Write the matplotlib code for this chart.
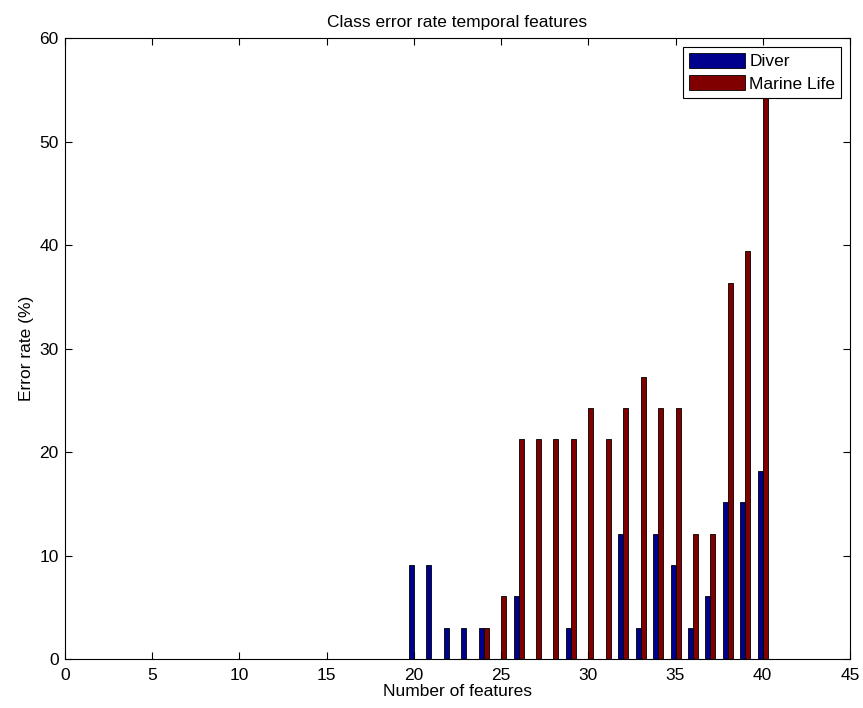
import numpy as np
import matplotlib.pyplot as plt

plt.rcParams['font.family'] = ['Liberation Sans', 'DejaVu Sans']

# error rates (%) per number of features, 1..40
n_features = np.arange(1, 41)
diver = [0] * 19 + [9.09, 9.09, 3.03, 3.03, 3.03, 0, 6.06, 0, 0, 3.03, 0,
                    0, 12.12, 3.03, 12.12, 9.09, 3.03, 6.06, 15.15, 15.15, 18.18]
marine = [0] * 19 + [0, 0, 0, 0, 3.03, 6.06, 21.21, 21.21, 21.21, 21.21, 24.24,
                     21.21, 24.24, 27.27, 24.24, 24.24, 12.12, 12.12, 36.36, 39.39, 57.58]

fs = 12.5
fig = plt.figure(figsize=(8.63, 7.08), dpi=100)
ax = fig.add_axes([0.0753, 0.0692, 0.9096, 0.8771])

w = 0.286
ax.bar(n_features - w / 2, diver, w, color='#00008f', edgecolor='black', linewidth=0.6, label='Diver')
ax.bar(n_features + w / 2, marine, w, color='#800000', edgecolor='black', linewidth=0.6, label='Marine Life')

ax.set_xlim(0, 45)
ax.set_ylim(0, 60)
ax.set_xticks(np.arange(0, 46, 5))
ax.set_yticks(np.arange(0, 61, 10))
ax.tick_params(direction='in', top=True, right=True, length=5, labelsize=fs)
ax.tick_params(axis='x', pad=6.5)
ax.tick_params(axis='y', pad=4.5)
for s in ax.spines.values():
    s.set_linewidth(0.8)

ax.set_xlabel('Number of features', fontsize=fs, labelpad=1)
ax.set_ylabel('Error rate (%)', fontsize=fs, labelpad=4)
ax.set_title('Class error rate temporal features', fontsize=fs, pad=8)

leg = ax.legend(loc='upper right', fancybox=False, framealpha=1, edgecolor='black',
                fontsize=fs, borderaxespad=0.5, handlelength=3.2, handleheight=0.95,
                labelspacing=0.35, borderpad=0.35, handletextpad=0.25)
leg.get_frame().set_linewidth(0.8)

fig.savefig('out.png', dpi=100)
